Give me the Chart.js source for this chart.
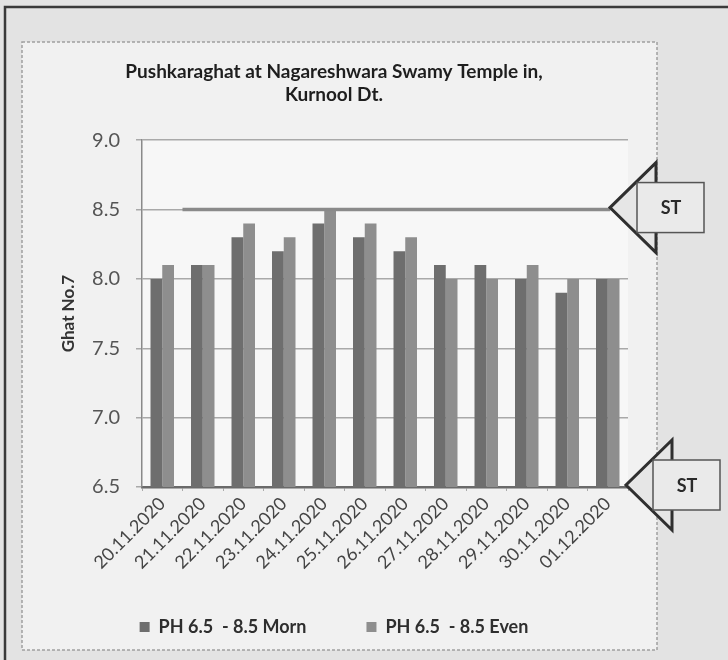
<!DOCTYPE html>
<html>
<head>
<meta charset="utf-8">
<script src="https://cdn.jsdelivr.net/npm/chart.js@4"></script>
<style>
html,body{margin:0;padding:0;background:#e3e3e3;}
#wrap{position:absolute;left:0;top:0;width:728px;height:660px;}
</style>
</head>
<body>
<div id="wrap"><canvas id="phChart" width="728" height="660"></canvas></div>
<script>
/*========== Data ==========*/

const dates=["20.11.2020","21.11.2020","22.11.2020","23.11.2020","24.11.2020","25.11.2020","26.11.2020","27.11.2020","28.11.2020","29.11.2020","30.11.2020","01.12.2020"];
const morning=[8.0,8.1,8.3,8.2,8.4,8.3,8.2,8.1,8.1,8.0,7.9,8.0];
const evening=[8.1,8.1,8.4,8.3,8.5,8.4,8.3,8.0,8.0,8.1,8.0,8.0];
const seriesNames=["PH 6.5  - 8.5 Morn","PH 6.5  - 8.5 Even"];
const stLimits=[8.5,6.5];
const stLabel="ST";
const yTicks=[6.5,7.0,7.5,8.0,8.5,9.0];

const FONT="Lato, 'Open Sans', sans-serif";

/*========== Page decoration ==========*/

const paperPlugin={
    id:"paper",
    beforeDraw(chart){
        const c=chart.ctx,a=chart.chartArea;
        c.save();
        c.fillStyle="#e3e3e3";
        c.fillRect(0,0,chart.width,chart.height);
        // outer frame
        c.strokeStyle="#3a3a3a";
        c.lineWidth=2.5;
        c.beginPath();
        c.moveTo(5,chart.height);c.lineTo(5,7);c.lineTo(chart.width,7);
        c.stroke();
        // chart box
        c.fillStyle="#f1f1f1";
        c.fillRect(22,42,635,608);
        c.strokeStyle="#a0a0a0";
        c.lineWidth=1.5;
        c.setLineDash([3,2]);
        c.strokeRect(22,42,635,608);
        c.setLineDash([]);
        // plot area
        c.fillStyle="#f7f7f7";
        c.fillRect(a.left,a.top,a.right-a.left,a.bottom-a.top);
        c.restore();
        // legend sits closer under the rotated dates
        const l=chart.legend;
        if(l){
            const lab=l.options.labels;
            l.top=a.bottom+71;
            l.height=lab.padding+lab.font.size+10;
            l.bottom=l.top+l.height;
        }
    }
};

/*========== ST markers ==========*/

const stPlugin={
    id:"stMarkers",
    afterDatasetsDraw(chart){
        const c=chart.ctx,a=chart.chartArea;
        const x=chart.scales.x,y=chart.scales.y;
        const tipOffsets=[-18,-2];
        c.save();
        // standard line at upper limit
        const yTop=y.getPixelForValue(stLimits[0]);
        c.strokeStyle="#8a8a8a";
        c.lineWidth=3.5;
        c.beginPath();
        c.moveTo(x.getPixelForValue(0.5),yTop);
        c.lineTo(a.right+tipOffsets[0],yTop);
        c.stroke();
        stLimits.forEach((v,i)=>drawArrow(c,a.right+tipOffsets[i],y.getPixelForValue(v)-2));
        c.restore();
    }
};

function drawArrow(c,tx,ty){
    c.fillStyle="#e6e6e6";
    c.strokeStyle="#2f2f2f";
    c.lineWidth=3;
    c.lineJoin="miter";
    c.beginPath();
    c.moveTo(tx+46,ty-45);
    c.lineTo(tx,ty);
    c.lineTo(tx+46,ty+45);
    c.closePath();
    c.fill();
    c.stroke();
    c.fillStyle="#eaeaea";
    c.strokeStyle="#555";
    c.lineWidth=1.5;
    c.fillRect(tx+27,ty-25,67,50);
    c.strokeRect(tx+27,ty-25,67,50);
    c.fillStyle="#2a2a2a";
    c.font="bold 18px "+FONT;
    c.textAlign="center";
    c.textBaseline="middle";
    c.fillText(stLabel,tx+61,ty+1);
}

/*========== Chart ==========*/

new Chart(document.getElementById("phChart"),{
    type:"bar",
    data:{
        labels:dates,
        datasets:[
            {label:seriesNames[0],data:morning,backgroundColor:"#6e6e6e",categoryPercentage:0.58,barPercentage:1},
            {label:seriesNames[1],data:evening,backgroundColor:"#8e8e8e",categoryPercentage:0.58,barPercentage:1}
        ]
    },
    options:{
        responsive:false,
        animation:false,
        devicePixelRatio:1,
        layout:{padding:{left:40,right:100,top:42,bottom:14}},
        plugins:{
            title:{
                display:true,
                text:["Pushkaraghat at Nagareshwara Swamy Temple in,","Kurnool Dt."],
                color:"#1e1e1e",
                font:{family:FONT,size:19,weight:"bold",lineHeight:1.2},
                padding:{top:18.6,bottom:34}
            },
            legend:{
                position:"bottom",
                maxHeight:51,
                labels:{
                    color:"#2e2e2e",
                    font:{family:FONT,size:18,weight:"bold"},
                    boxWidth:10,boxHeight:10,padding:60
                }
            },
            tooltip:{enabled:false}
        },
        scales:{
            x:{
                grid:{display:true,drawOnChartArea:false,tickLength:4,color:"#aaa"},
                border:{color:"#6a6a6a",width:2.5},
                ticks:{color:"#444",font:{family:FONT,size:18},minRotation:45,maxRotation:45,padding:2},
                afterFit:s=>{s.height=108;}
            },
            y:{
                min:6.5,max:9.0,
                afterBuildTicks:s=>{s.ticks=yTicks.map(v=>({value:v}));},
                grid:{color:"#a9a9a9",lineWidth:1.5,tickLength:6},
                border:{color:"#8a8a8a",width:1.5},
                ticks:{color:"#555",font:{family:FONT,size:20},padding:16,callback:v=>Number(v).toFixed(1)},
                title:{display:true,text:"Ghat No.7",color:"#333",font:{family:FONT,size:17,weight:"bold"},padding:{top:18,bottom:0}},
                afterFit:s=>{s.width=102;}
            }
        }
    },
    plugins:[paperPlugin,stPlugin]
});
</script>
</body>
</html>
